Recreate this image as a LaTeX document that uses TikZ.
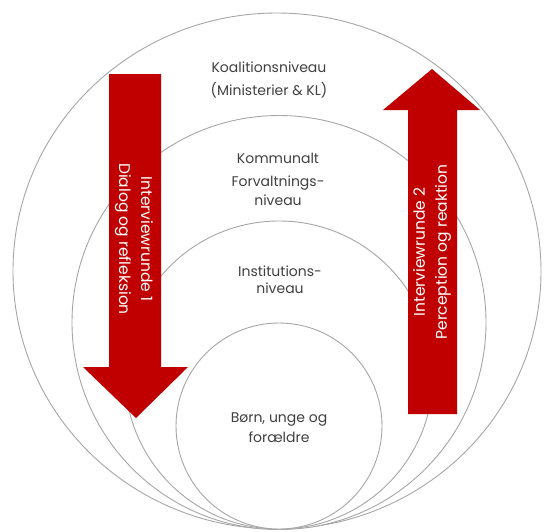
\documentclass[tikz,border=0pt]{standalone}
\usepackage{fontspec}
\setmainfont{Poppins}
\definecolor{arrowred}{HTML}{C00000}
\definecolor{txtgray}{HTML}{404040}
\definecolor{ringgray}{HTML}{A6A6A6}
\begin{document}
\begin{tikzpicture}[x=1pt,y=-1pt,
  ring/.style={draw=ringgray, line width=0.9pt, fill=white},
  bigarrow/.style={fill=arrowred, draw=none},
  lvl/.style={text=txtgray, font=\fontsize{14}{17}\selectfont, inner sep=0pt},
  arrtxt/.style={text=white, font=\fontsize{15.5}{22}\selectfont, inner sep=0pt, align=center}]
\useasboundingbox (0,0) rectangle (544,531);
% nested rings
\draw[ring] (277,271) ellipse [x radius=264pt, y radius=258pt];
\draw[ring] (279,322.5) circle [radius=207pt];
\draw[ring] (279,375) circle [radius=154pt];
\draw[ring] (279,426) circle [radius=103pt];
% arrows
\draw[bigarrow] (109,74) -- (161,74) -- (161,367) -- (188,367) -- (136,418) -- (83,367) -- (109,367) -- cycle;
\draw[bigarrow] (408,414) -- (457,414) -- (457,110) -- (480,110) -- (432,69) -- (383,110) -- (408,110) -- cycle;
\node[arrtxt, rotate=-90] (a1) at (134,239) {Interviewrunde 1\\Dialog og refleksion};
\node[arrtxt, rotate=90] (a2) at (432,252) {Interviewrunde 2\\Perception og reaktion};
% level texts
\node[lvl] (k1) at (269,67) {Koalitionsniveau};
\node[lvl] (k2) at (269,90) {(Ministerier \& KL)};
\node[lvl] (f1) at (278,158) {Kommunalt};
\node[lvl] (f2) at (278,183) {Forvaltnings-};
\node[lvl] (f3) at (278,200) {niveau};
\node[lvl] (i1) at (280,271) {Institutions-};
\node[lvl] (i2) at (280,288) {niveau};
\node[lvl] (b1) at (279,420) {Børn, unge og};
\node[lvl] (b2) at (279,437) {forældre};
\end{tikzpicture}
\end{document}
